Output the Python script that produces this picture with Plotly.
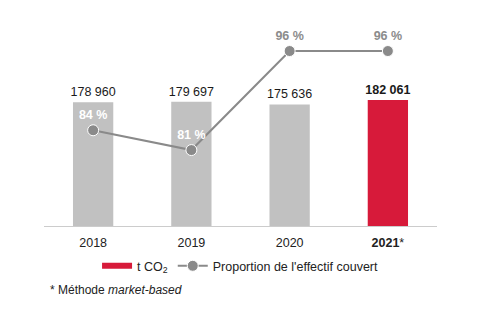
import plotly.graph_objects as go

years = ["2018", "2019", "2020", "2021"]
tick_labels = ["2018", "2019", "2020", "<b>2021</b>*"]
co2 = [178960, 179697, 175636, 182061]
co2_labels = ["178 960", "179 697", "175 636", "<b>182 061</b>"]
coverage = [84, 81, 96, 96]
coverage_labels = ["<b>84 %</b>", "<b>81 %</b>", "<b>96 %</b>", "<b>96 %</b>"]
coverage_label_colors = ["white", "white", "#8c8c8c", "#8c8c8c"]

bar_colors = ["#c1c1c1", "#c1c1c1", "#c1c1c1", "#d71a3a"]
FONT = "Liberation Sans, Arial, sans-serif"

fig = go.Figure()
fig.add_trace(go.Bar(
    x=years, y=co2, marker=dict(color=bar_colors, line=dict(width=0)),
    width=0.41, text=co2_labels, textposition="outside", constraintext="none",
    textfont=dict(size=12.5, color="#1a1a1a", family=FONT),
    cliponaxis=False, showlegend=False, hoverinfo="skip",
))
# legend proxy for the bars
fig.add_trace(go.Scatter(
    x=[None], y=[None], mode="lines", name="t CO<sub>2</sub>",
    line=dict(color="#d71a3a", width=6),
))
fig.add_trace(go.Scatter(
    x=years, y=coverage, yaxis="y2", mode="lines+markers+text",
    name="Proportion de l'effectif couvert",
    line=dict(color="#8a8a8a", width=2),
    marker=dict(color="#8a8a8a", size=11, line=dict(color="white", width=1)),
    text=coverage_labels, textposition="top center",
    textfont=dict(size=12.5, color=coverage_label_colors, family=FONT),
    cliponaxis=False,
))

fig.update_layout(
    width=496, height=326,
    margin=dict(l=44, r=59, t=20, b=100),
    paper_bgcolor="white", plot_bgcolor="white",
    font=dict(family=FONT, size=12, color="#333333"),
    xaxis=dict(
        type="category", tickvals=years, ticktext=tick_labels,
        showline=True, linecolor="#cccccc", linewidth=1,
        ticks="", showgrid=False, tickfont=dict(size=12.5, color="#222222"),
        ticklabelstandoff=5,
    ),
    yaxis=dict(range=[0, 297700], visible=False, showgrid=False),
    yaxis2=dict(range=[69.5, 100.7], overlaying="y", visible=False, showgrid=False),
    legend=dict(
        orientation="h", x=0.135, y=-0.195, xanchor="left", yanchor="middle",
        font=dict(size=12.5, color="#222222"), traceorder="normal",
        itemwidth=30,
    ),
    annotations=[dict(
        text="* Méthode <i>market-based</i>", xref="paper", yref="paper",
        x=(48 - 44) / 393, y=(226 - 290) / 206, xanchor="left", yanchor="middle",
        showarrow=False, font=dict(size=12, color="#222222"),
    )],
)

fig.write_html("out.html")
